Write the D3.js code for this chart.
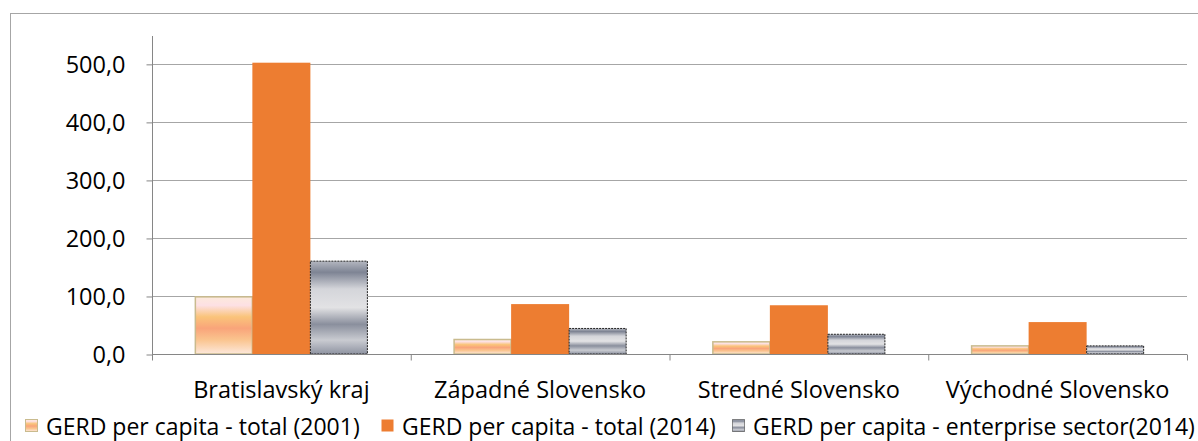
<!DOCTYPE html>
<html><head><meta charset="utf-8">
<script src="https://cdn.jsdelivr.net/npm/d3@7"></script>
<style>body{margin:0;background:#fff}svg{display:block}</style>
</head><body>
<script>
const categories = ["Bratislavský kraj","Západné Slovensko","Stredné Slovensko","Východné Slovensko"];
const seriesNames = ["GERD per capita - total (2001)","GERD per capita - total (2014)","GERD per capita - enterprise sector(2014)"];
const total2001 = [98.5, 25, 21, 14];
const total2014 = [502, 86, 84, 55];
const enterprise2014 = [160, 44, 34, 14];
const yTicks = [0,100,200,300,400,500];

const W=1198,H=441;
const svg=d3.select("body").append("svg").attr("width",W).attr("height",H);
const font="'Open Sans', sans-serif";
const fs=23.5;
const defs=svg.append("defs");
const g1=defs.append("linearGradient").attr("id","g2001").attr("x1",0).attr("y1",0).attr("x2",0).attr("y2",1);
[[0,"#fdeadc"],[0.15,"#fde0e4"],[0.35,"#fac47a"],[0.55,"#f9a47a"],[0.75,"#fac48e"],[1,"#fde8dc"]].forEach(s=>g1.append("stop").attr("offset",s[0]).attr("stop-color",s[1]));
const g3=defs.append("linearGradient").attr("id","gent").attr("x1",0).attr("y1",0).attr("x2",0).attr("y2",1);
[[0,"#b4b7c0"],[0.12,"#7e8494"],[0.3,"#d4d5da"],[0.5,"#e2e2e4"],[0.68,"#8a8f9d"],[0.85,"#c9cbd1"],[1,"#8f94a2"]].forEach(s=>g3.append("stop").attr("offset",s[0]).attr("stop-color",s[1]));

// outer border
svg.append("rect").attr("x",10.5).attr("y",13.5).attr("width",1200).attr("height",440).attr("fill","none").attr("stroke","#a6a6a6").attr("stroke-width",1);

const x0=152,x1=1187,yTop=36,yBase=354;
const y=d3.scaleLinear().domain([0,548]).range([yBase,yTop]);
const x=d3.scaleBand().domain(categories).range([x0,x1]).paddingInner(0).paddingOuter(0);
const xs=d3.scaleBand().domain([0,1,2]).range([0,x.bandwidth()]).paddingOuter(0.73).paddingInner(0);

// gridlines
svg.append("g").selectAll("line").data(yTicks.filter(d=>d>0)).join("line")
 .attr("x1",x0).attr("x2",x1).attr("y1",d=>Math.round(y(d))+0.5).attr("y2",d=>Math.round(y(d))+0.5)
 .attr("stroke","#a6a6a6").attr("stroke-width",1);

// y axis
const yAxis=d3.axisLeft(y).tickValues(yTicks).tickSize(6).tickPadding(21).tickFormat(d=>d3.format(".1f")(d).replace(".",","));
const ya=svg.append("g").attr("transform",`translate(${x0+0.5},0)`).call(yAxis);
ya.select(".domain").attr("d",`M0,${yTop}V${yBase}`).attr("stroke","#868686");
ya.selectAll(".tick line").attr("stroke","#868686").attr("transform","translate(0,0.5)");
ya.selectAll(".tick text").attr("font-family",font).attr("font-size",fs).attr("fill","#000").attr("dy","0.35em");

const series=[total2001,total2014,enterprise2014];
const fills=["url(#g2001)","#ed7d31","url(#gent)"];
const strokes=["#c9bb8e","none","#222"];
series.forEach((vals,si)=>{
  svg.append("g").selectAll("rect").data(vals).join("rect")
   .attr("x",(d,i)=>x(categories[i])+xs(si)+(si==0?1:0))
   .attr("width",xs.bandwidth()-(si==0?1:0)-(si==2?1:0))
   .attr("y",d=>y(d)).attr("height",d=>yBase-y(d))
   .attr("fill",fills[si]).attr("stroke",strokes[si])
   .attr("stroke-width",si==2?1:1.5)
   .attr("stroke-dasharray",si==2?"2,1":null);
});

// x axis
const xAxis=d3.axisBottom(x).tickSize(0).tickPadding(27);
const xa=svg.append("g").attr("transform",`translate(0,${yBase+0.5})`).call(xAxis);
xa.select(".domain").attr("d",`M${x0},0H${x1}`).attr("stroke","#868686");
xa.selectAll(".tick text").attr("font-family",font).attr("font-size",fs).attr("fill","#000").attr("dy","0.71em");
xa.append("g").selectAll("line").data(d3.range(categories.length+1)).join("line")
 .attr("x1",i=>x0+i*x.bandwidth()+0.5).attr("x2",i=>x0+i*x.bandwidth()+0.5).attr("y1",0).attr("y2",6).attr("stroke","#868686");

// legend
const legX=[25,381,732];
const leg=svg.append("g");
seriesNames.forEach((n,i)=>{
  leg.append("rect").attr("x",legX[i]+0.5).attr("y",419.5).attr("width",12).attr("height",12)
   .attr("fill",fills[i]).attr("stroke",i==1?"none":strokes[i]).attr("stroke-width",1).attr("stroke-dasharray",i==2?"1,1":null);
  leg.append("text").attr("x",legX[i]+21).attr("y",435).attr("font-family",font).attr("font-size",23).attr("fill","#000").text(n);
});
</script>
</body></html>
